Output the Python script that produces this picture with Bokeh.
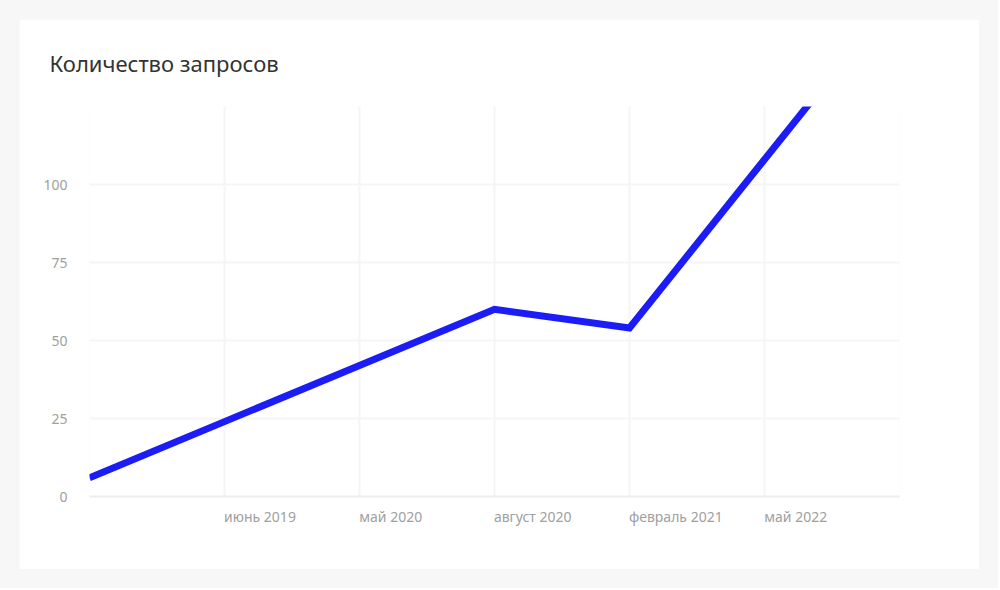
from bokeh.plotting import figure
from bokeh.models import Range1d, FixedTicker, Title
from bokeh.layouts import column
from bokeh.embed import file_html
from bokeh.resources import INLINE

idx = [0, 1, 2, 3, 4, 5, 6]
values = [6, 24, 42, 60, 54, 108, 162]
tick_pos = [1, 2, 3, 4, 5]
tick_text = ["июнь 2019", "май 2020", "август 2020", "февраль 2021", "май 2022"]
y_ticks = [0, 25, 50, 75, 100]

FONT = "Noto Sans"
LABEL_COLOR = "#a0a0a0"
PX_PER_UNIT = 135.0
# approximate rendered widths (px) of the labels at 14px, used to left-align them at the grid lines
label_w = [71, 62.5, 76.5, 92.6, 62.5]

p = figure(width=960, height=550, output_backend="svg", toolbar_location=None,
           x_range=Range1d(0, 6), y_range=Range1d(0, 125),
           min_border_left=70, min_border_right=80, min_border_top=87, min_border_bottom=73)
p.margin = (19, 19, 19, 19)
p.outline_line_color = None
p.background_fill_color = "white"
p.border_fill_color = "white"

t = Title(text="Количество запросов", align="left", offset=-40, vertical_align="top",
          text_font=FONT, text_font_size="22px", text_font_style="normal",
          text_color="#333333", standoff=54)
p.add_layout(t, "above")

p.line(idx, values, line_width=7, line_color="#1c1cf7", line_join="miter")

# x axis: labels shifted so that each starts at its grid line
shifted = [xp + w / 2.0 / PX_PER_UNIT for xp, w in zip(tick_pos, label_w)]
p.xaxis.ticker = FixedTicker(ticks=shifted)
p.xaxis.major_label_overrides = {s: txt for s, txt in zip(shifted, tick_text)}
p.xaxis.major_label_text_font = FONT
p.xaxis.major_label_text_font_size = "14px"
p.xaxis.major_label_text_color = LABEL_COLOR
p.xaxis.major_label_standoff = 4
p.xaxis.axis_line_color = "#ededed"
p.xaxis.axis_line_width = 2
p.xaxis.major_tick_line_color = None
p.xaxis.minor_tick_line_color = None

# y axis
p.yaxis.ticker = FixedTicker(ticks=y_ticks)
p.yaxis.major_label_text_font = FONT
p.yaxis.major_label_text_font_size = "14px"
p.yaxis.major_label_text_color = LABEL_COLOR
p.yaxis.major_label_standoff = 16
p.yaxis.axis_line_color = None
p.yaxis.major_tick_line_color = None
p.yaxis.minor_tick_line_color = None

p.xgrid.ticker = FixedTicker(ticks=[0, 1, 2, 3, 4, 5])
p.xgrid.grid_line_color = "#f5f5f5"
p.xgrid.grid_line_width = 2
p.ygrid.grid_line_color = "#f5f5f5"
p.ygrid.grid_line_width = 2

layout = column(p, styles={"background-color": "#f7f7f7"})

open("out.html", "w").write(file_html(layout, INLINE))
